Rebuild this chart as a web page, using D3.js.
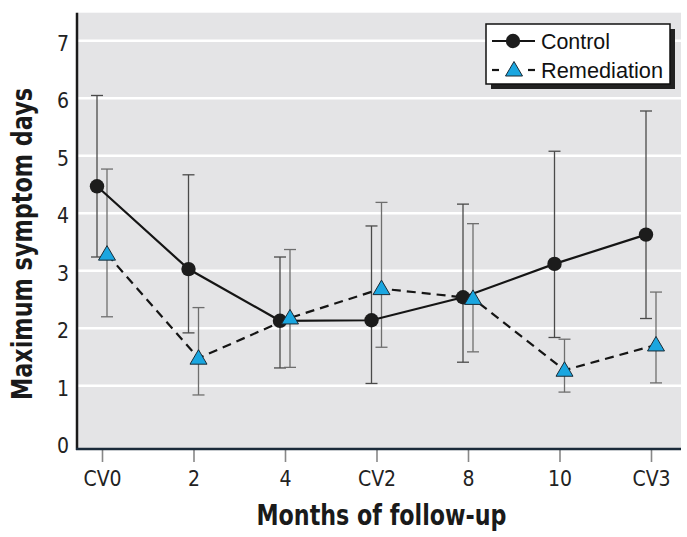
<!DOCTYPE html>
<html><head><meta charset="utf-8">
<script src="https://cdn.jsdelivr.net/npm/d3@7"></script>
<style>body{margin:0;background:#fff}</style>
</head><body><svg id="c" width="687" height="537"></svg>
<script>
const categories = ["CV0","2","4","CV2","8","10","CV3"];
const controlMean = [4.47,3.03,2.13,2.14,2.54,3.12,3.63];
const controlLow  = [3.24,1.92,1.31,1.04,1.41,1.84,2.17];
const controlHigh = [6.05,4.67,3.24,3.78,4.16,5.08,5.78];
const remedMean = [3.29,1.48,2.18,2.69,2.52,1.27,1.71];
const remedLow  = [2.20,0.84,1.32,1.67,1.59,0.89,1.05];
const remedHigh = [4.77,2.36,3.37,4.19,3.82,1.81,2.63];
const yTicks = [0,1,2,3,4,5,6,7];
const seriesNames = ["Control","Remediation"];

const svg = d3.select("#c");
const L = 77, R = 681, T = 12.7, B = 449;
const x = d3.scalePoint().domain(categories).range([102, 651]);
const y = d3.scaleLinear().domain([-0.1, 7.49]).range([B, T]);
const condensed = "'Liberation Sans Narrow','Arial Narrow','DejaVu Sans Condensed',sans-serif";
const regular = "'Liberation Sans',Arial,sans-serif";

svg.append("rect").attr("x", L).attr("y", T).attr("width", R - L).attr("height", B - T).attr("fill", "#e4e4e6");
svg.append("g").selectAll("line").data(yTicks.filter(d => d > 0)).join("line")
  .attr("x1", L).attr("x2", R).attr("y1", d => y(d)).attr("y2", d => y(d))
  .attr("stroke", "#fff").attr("stroke-width", 2.5);

// x axis ticks & labels
const xa = svg.append("g").attr("transform", `translate(0,${B})`)
  .call(d3.axisBottom(x).tickSize(13).tickSizeOuter(0).tickPadding(9));
xa.select(".domain").remove();
xa.selectAll(".tick line").attr("stroke", "#888").attr("stroke-width", 1.6);
xa.selectAll(".tick text").attr("font-family", condensed).attr("font-size", 21).attr("fill", "#222");

// y tick labels
svg.append("g").selectAll("text").data(yTicks).join("text")
  .attr("x", 69).attr("y", d => y(d) + 2.5).attr("dy", "0.35em")
  .attr("text-anchor", "end").attr("font-family", condensed).attr("font-size", 21).attr("fill", "#222")
  .text(d => d);

// axis lines
svg.append("line").attr("x1", L).attr("x2", L).attr("y1", T).attr("y2", B + 1).attr("stroke", "#1a1a1a").attr("stroke-width", 2.5);
svg.append("line").attr("x1", L - 1).attr("x2", R).attr("y1", B).attr("y2", B).attr("stroke", "#1a2a3a").attr("stroke-width", 2.5);

const series = [
  {name: seriesNames[0], mean: controlMean, low: controlLow, high: controlHigh, dx: -5, dash: null, errColor: "#4a4a4a"},
  {name: seriesNames[1], mean: remedMean, low: remedLow, high: remedHigh, dx: 5, dash: "9,6", errColor: "#6e6e6e"}
];
const tri = "M0,-8.5L8.5,6L-8.5,6Z";

// error bars
series.forEach(s => {
  const g = svg.append("g").attr("stroke", s.errColor).attr("stroke-width", 1.3);
  categories.forEach((c, i) => {
    const cx = x(c) + s.dx;
    g.append("line").attr("x1", cx).attr("x2", cx).attr("y1", y(s.low[i])).attr("y2", y(s.high[i]));
    g.append("line").attr("x1", cx - 6).attr("x2", cx + 6).attr("y1", y(s.low[i])).attr("y2", y(s.low[i]));
    g.append("line").attr("x1", cx - 6).attr("x2", cx + 6).attr("y1", y(s.high[i])).attr("y2", y(s.high[i]));
  });
});

// lines
series.forEach(s => {
  const line = d3.line().x((d, i) => x(categories[i]) + s.dx).y(d => y(d));
  svg.append("path").datum(s.mean).attr("d", line).attr("fill", "none")
    .attr("stroke", "#151515").attr("stroke-width", 2.2)
    .attr("stroke-dasharray", s.dash);
});

// markers
svg.append("g").selectAll("circle").data(controlMean).join("circle")
  .attr("cx", (d, i) => x(categories[i]) + series[0].dx).attr("cy", d => y(d))
  .attr("r", 7.2).attr("fill", "#1c1c1c");
svg.append("g").selectAll("path").data(remedMean).join("path")
  .attr("transform", (d, i) => `translate(${x(categories[i]) + series[1].dx},${y(d)})`)
  .attr("d", tri).attr("fill", "#1aa6e0").attr("stroke", "#1a2a35").attr("stroke-width", 1);

// legend
const lg = svg.append("g");
lg.append("rect").attr("x", 491).attr("y", 29).attr("width", 184).attr("height", 60).attr("fill", "#222");
lg.append("rect").attr("x", 486).attr("y", 24).attr("width", 184).attr("height", 60).attr("fill", "#fff").attr("stroke", "#111").attr("stroke-width", 1.5);
lg.append("line").attr("x1", 492).attr("x2", 535).attr("y1", 41).attr("y2", 41).attr("stroke", "#151515").attr("stroke-width", 2.2);
lg.append("circle").attr("cx", 513).attr("cy", 41).attr("r", 7.2).attr("fill", "#1c1c1c");
lg.append("line").attr("x1", 492).attr("x2", 499).attr("y1", 70).attr("y2", 70).attr("stroke", "#151515").attr("stroke-width", 2.2);
lg.append("line").attr("x1", 528).attr("x2", 535).attr("y1", 70).attr("y2", 70).attr("stroke", "#151515").attr("stroke-width", 2.2);
lg.append("path").attr("transform", "translate(514,70)").attr("d", tri).attr("fill", "#1aa6e0").attr("stroke", "#1a2a35").attr("stroke-width", 1);
lg.append("text").attr("x", 541).attr("y", 49).attr("font-family", regular).attr("font-size", 22).attr("fill", "#111")
  .attr("textLength", 69).attr("lengthAdjust", "spacingAndGlyphs").text(seriesNames[0]);
lg.append("text").attr("x", 541).attr("y", 78).attr("font-family", regular).attr("font-size", 22).attr("fill", "#111")
  .attr("textLength", 122).attr("lengthAdjust", "spacingAndGlyphs").text(seriesNames[1]);

// axis titles
svg.append("text").attr("x", 381.5).attr("y", 525).attr("text-anchor", "middle")
  .attr("font-family", condensed).attr("font-weight", "bold").attr("font-size", 28).attr("fill", "#1a1a1a")
  .attr("textLength", 250).attr("lengthAdjust", "spacingAndGlyphs").text("Months of follow-up");
svg.append("text").attr("transform", "translate(32,244) rotate(-90)").attr("text-anchor", "middle")
  .attr("font-family", condensed).attr("font-weight", "bold").attr("font-size", 28).attr("fill", "#1a1a1a")
  .attr("textLength", 312).attr("lengthAdjust", "spacingAndGlyphs").text("Maximum symptom days");
</script></body></html>
